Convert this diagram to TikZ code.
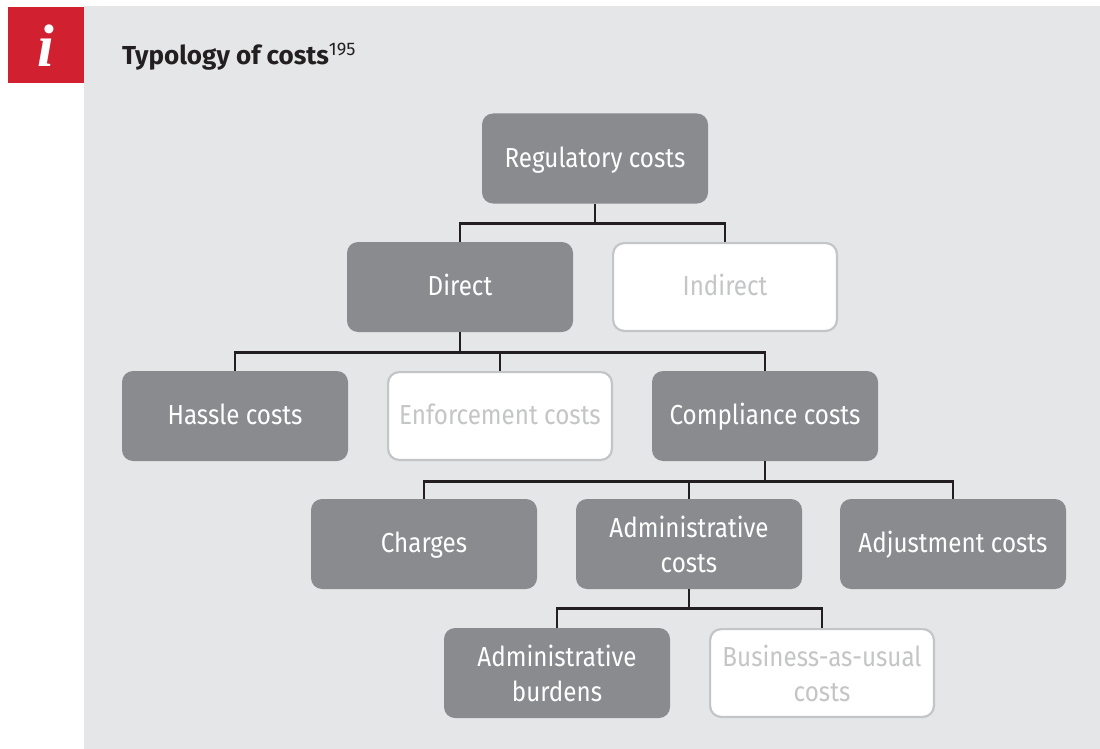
\documentclass[tikz,border=0pt]{standalone}
\usepackage{fontspec}
\setmainfont[FakeStretch=0.88]{Fira Sans}
\newfontfamily\titlefont{Fira Sans}
\newfontfamily\iconfont{Liberation Serif}
\definecolor{panel}{HTML}{E5E6E8}
\definecolor{darkbox}{HTML}{8A8B8E}
\definecolor{lightline}{HTML}{C4C5C7}
\definecolor{redsq}{HTML}{D12131}
\definecolor{conn}{HTML}{231F20}
\begin{document}
\begin{tikzpicture}[x=1pt,y=-1pt,
  boxbase/.style={rounded corners=11pt,minimum width=226pt,minimum height=90pt,align=center,
    font=\fontsize{27.5}{35}\selectfont,inner sep=0pt},
  dark/.style={boxbase,fill=darkbox,text=white},
  light/.style={boxbase,fill=white,draw=lightline,line width=2.2pt,text=lightline,
    minimum width=223.8pt,minimum height=87.8pt},
  oneline/.style={text height=17.5pt,text depth=0pt},
  link/.style={draw=conn,line width=2.6pt}]
\useasboundingbox (0,0) rectangle (1100,749);
\fill[panel] (84,6) rectangle (1100,749);
\fill[redsq] (8,7) rectangle (84,83);
\node[text=white,font=\iconfont\bfseries\itshape\fontsize{60}{60}\selectfont] (icon) at (46,46) {i};
\node[anchor=base west,inner sep=0pt,text=conn,font=\titlefont\fontsize{26}{30}\selectfont\bfseries] (title) at (122,65) {Typology of costs\textsuperscript{\mdseries 195}};

\node[dark,oneline] (reg) at (595,158.5) {Regulatory costs};
\node[dark,oneline] (dir) at (460,287) {Direct};
\node[light,oneline] (ind) at (725,287) {Indirect};
\node[dark,oneline] (has) at (235,416) {Hassle costs};
\node[light,oneline] (enf) at (500,416) {Enforcement costs};
\node[dark,oneline] (com) at (765,416) {Compliance costs};
\node[dark,oneline] (cha) at (424,544) {Charges};
\node[dark] (adm) at (689,544) {Administrative\\costs};
\node[dark,oneline] (adj) at (953,544) {Adjustment costs};
\node[dark] (bur) at (557,673) {Administrative\\burdens};
\node[light] (bau) at (822,673) {Business-as-usual\\costs};

\draw[link] (reg.south) -- ++(0,20) coordinate (r1);
\draw[link] (dir.north) |- (r1) -| (ind.north);
\draw[link] (dir.south) -- ++(0,20) coordinate (d1);
\draw[link] (has.north) |- (d1) -| (com.north);
\draw[link] (enf.north) -- (enf.north |- d1);
\draw[link] (com.south) -- ++(0,20) coordinate (c1);
\draw[link] (cha.north) |- (c1) -| (adj.north);
\draw[link] (adm.north) -- (adm.north |- c1);
\draw[link] (adm.south) -- ++(0,19) coordinate (a1);
\draw[link] (bur.north) |- (a1) -| (bau.north);
\end{tikzpicture}
\end{document}
